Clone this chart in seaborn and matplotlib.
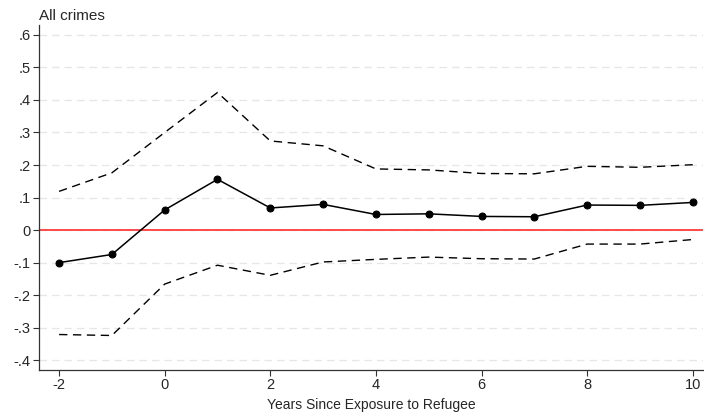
import numpy as np
import pandas as pd
import matplotlib
matplotlib.use('Agg')
import matplotlib.pyplot as plt
import seaborn as sns

# event-study estimates
years = [-2, -1, 0, 1, 2, 3, 4, 5, 6, 7, 8, 9, 10]
coef = [-0.100, -0.075, 0.062, 0.156, 0.068, 0.079, 0.048, 0.050, 0.042, 0.041, 0.077, 0.076, 0.085]
upper = [0.119, 0.176, 0.300, 0.423, 0.274, 0.259, 0.188, 0.185, 0.174, 0.173, 0.196, 0.193, 0.201]
lower = [-0.321, -0.324, -0.166, -0.108, -0.139, -0.098, -0.090, -0.083, -0.088, -0.089, -0.043, -0.043, -0.029]

ytick_vals = [0.6, 0.5, 0.4, 0.3, 0.2, 0.1, 0, -0.1, -0.2, -0.3, -0.4]
ytick_labels = ['.6', '.5', '.4', '.3', '.2', '.1', '0', '-.1', '-.2', '-.3', '-.4']
xtick_vals = [-2, 0, 2, 4, 6, 8, 10]

df = pd.DataFrame({'year': years, 'coef': coef, 'upper': upper, 'lower': lower})

sns.set_style('white')
plt.rcParams['font.family'] = ['Liberation Sans', 'DejaVu Sans']
plt.rcParams['axes.unicode_minus'] = False

fig = plt.figure(figsize=(7.04, 4.19), dpi=100)
ax = fig.add_axes([0.0554, 0.117, 0.9436, 0.823])

for v in ytick_vals:
    ax.axhline(v, color='#e6e6e6', lw=0.9, ls=(0, (6, 4)), zorder=0)
ax.axhline(0, color='#ff3b3b', lw=1.3, zorder=1)

sns.lineplot(data=df, x='year', y='upper', ax=ax, color='black', lw=1.0, ls=(0, (6, 4)))
sns.lineplot(data=df, x='year', y='lower', ax=ax, color='black', lw=1.0, ls=(0, (6, 4)))
sns.lineplot(data=df, x='year', y='coef', ax=ax, color='black', lw=1.1,
             marker='o', markersize=5, markeredgecolor='black')

ax.set_xlim(-2.38, 10.2)
ax.set_ylim(-0.43, 0.63)
ax.set_yticks(ytick_vals)
ax.set_yticklabels(ytick_labels)
ax.set_xticks(xtick_vals)
ax.tick_params(axis='both', direction='out', length=4, width=0.8, color='#333333',
               labelsize=10.5, left=True, bottom=True, pad=2)
for s in ['top', 'right']:
    ax.spines[s].set_visible(False)
for s in ['left', 'bottom']:
    ax.spines[s].set_color('#333333')
    ax.spines[s].set_linewidth(0.9)

ax.set_xlabel('Years Since Exposure to Refugee', fontsize=10, labelpad=4)
ax.set_ylabel('')
ax.set_title('All crimes', loc='left', fontsize=11, pad=4)

fig.savefig('out.png', dpi=100)
